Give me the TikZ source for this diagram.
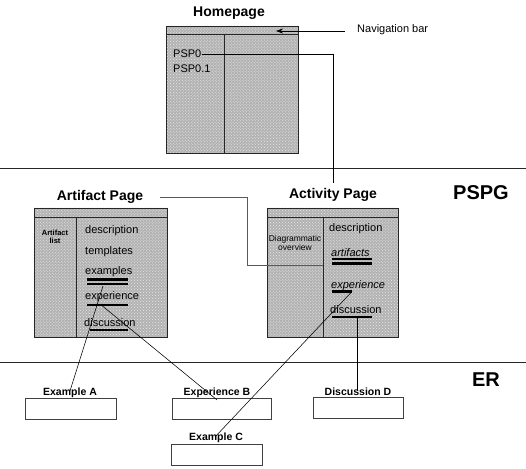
\documentclass[tikz,border=0pt]{standalone}
\usepackage{fontspec}
\setmainfont{Liberation Sans}
\usetikzlibrary{arrows.meta,patterns}

\newcommand{\fsz}[1]{\fontsize{#1bp}{#1bp}\selectfont}

\begin{document}
\begin{tikzpicture}[x=1bp,y=-1bp,
  pagebox/.style={draw=black!85,line width=0.9bp,fill=black!30},
  screen/.style={pattern=crosshatch dots,pattern color=white!92!black},
  rule/.style={draw=black!85,line width=0.9bp},
  title/.style={font=\fsz{14}\bfseries,inner sep=0pt},
  level/.style={font=\fsz{20}\bfseries,inner sep=0pt},
  item/.style={font=\fsz{11},anchor=west,inner sep=0pt},
  small/.style={font=\fsz{7.5},align=center,inner sep=0pt},
  erlabel/.style={font=\fsz{10.5}\bfseries,inner sep=0pt},
  erbox/.style={draw=black!75,line width=0.6bp,fill=white},
  bar/.style={line width=2.2bp,black},
  link/.style={black,line width=0.55bp},
  faint/.style={black!65,line width=0.6bp},
  sep/.style={black!85,line width=0.9bp}
]
\useasboundingbox (0,0) rectangle (526,469);

% level separators
\draw[sep] (0,168) -- (526,168);
\draw[sep] (0,362) -- (526,362);
\node[level] (pspg) at (481,193) {PSPG};
\node[level] (er) at (486,380) {ER};

% ---------------- Homepage ----------------
\node[title] (hometitle) at (229,13) {Homepage};
\path[pagebox] (166,26) rectangle (298,153);
\fill[screen] (166,26) rectangle (298,153);
\draw[rule] (166,26) rectangle (298,153);
\draw[rule] (166,34) -- (298,34);
\draw[rule] (224,34) -- (224,153);
\node[item] (psp0) at (173,54) {PSP0};
\node[item] (psp01) at (173,69) {PSP0.1};

\node[font=\fsz{11},anchor=west,inner sep=0pt] (navlabel) at (357,30) {Navigation bar};
\coordinate (navstart) at (345,31);
\coordinate (navtip) at (276,31);
\draw[link,-{Stealth[length=7bp,width=5bp]}] (navstart) -- (navtip);

\coordinate (psp0turn) at (333,54);
\coordinate (psp0end) at (333,183);
\draw[link] (psp0.east) -- (psp0turn) -- (psp0end);

% ---------------- Artifact Page ----------------
\node[title] (arttitle) at (100,197) {Artifact Page};
\path[pagebox] (34,208) rectangle (167,337);
\fill[screen] (34,208) rectangle (167,337);
\draw[rule] (34,208) rectangle (167,337);
\draw[rule] (34,217) -- (167,217);
\draw[rule] (76,217) -- (76,337);
\node[small] (artlist) at (55,237) {\bfseries Artifact\\\bfseries list};

\node[item] (artdesc) at (85,231) {description};
\node[item] (arttempl) at (85,252) {templates};
\node[item] (artexam) at (85,272) {examples};
\node[item] (artexp) at (85,297) {experience};
\node[item] (artdisc) at (84,323) {discussion};
\draw[bar] (87,279.5) -- (128,279.5);
\draw[bar] (87,284) -- (128,284);
\draw[bar] (87,305) -- (128,305);
\draw[bar] (90,330) -- (128,330);

% ---------------- Activity Page ----------------
\node[title] (acttitle) at (333,195) {Activity Page};
\path[pagebox] (267,208) rectangle (398,337);
\fill[screen] (267,208) rectangle (398,337);
\draw[rule] (267,208) rectangle (398,337);
\draw[rule] (267,217) -- (398,217);
\draw[rule] (323,217) -- (323,337);
\node[small,font=\fsz{8.5}] (overview) at (295,243) {Diagrammatic\\overview};

\node[item] (actdesc) at (329,229) {description};
\node[item,font=\fsz{11}\itshape] (actart) at (331,253) {artifacts};
\node[item,font=\fsz{11}\itshape] (actexp) at (331,286) {experience};
\node[item] (actdisc) at (330,310) {discussion};
\draw[bar] (332,259) -- (372,259);
\draw[bar] (332,263.5) -- (372,263.5);
\draw[bar] (332,291.5) -- (352,291.5);
\draw[bar] (332,317) -- (372,317);

% Artifact Page title leads to the diagrammatic overview pane
\coordinate (artlinestart) at (160,197);
\coordinate (artturn1) at (247,197);
\coordinate (artturn2) at (247,265);
\coordinate (overviewedge) at (323,265);
\draw[faint] (artlinestart) -- (artturn1) -- (artturn2) -- (overviewedge);

% ---------------- ER elements ----------------
\node[erlabel] (exA) at (70,393) {Example A};
\draw[erbox] (25,398) rectangle (116,419);
\node[erlabel] (expB) at (217,393) {Experience B};
\draw[erbox] (172,398) rectangle (271,419);
\node[erlabel] (discD) at (358,392) {Discussion D};
\draw[erbox] (313,397) rectangle (403,418);
\node[erlabel] (exC) at (216,438) {Example C};
\draw[erbox] (171,444) rectangle (262,465);

% links from page items to ER elements
\coordinate (artexambar) at (103,286);
\coordinate (artexpbar) at (100,304);
\coordinate (actexpbar) at (352,291.5);
\coordinate (actdiscbar) at (357,317);
\draw[link] (artexambar) -- ([yshift=-3bp]exA.north);
\draw[link] (artexpbar) -- ([yshift=-12bp]expB.north);
\draw[link] (actexpbar) -- ([yshift=-3bp]exC.north);
\draw[link] (actdiscbar) -- ([yshift=-3bp,xshift=-1bp]discD.north);
\end{tikzpicture}
\end{document}
